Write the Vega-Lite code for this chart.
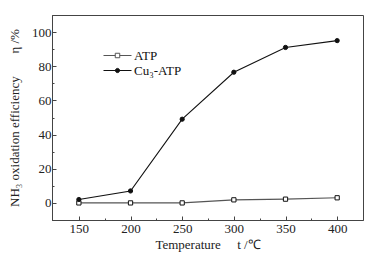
{
  "$schema": "https://vega.github.io/schema/vega-lite/v6.json",
  "width": 311,
  "height": 205,
  "autosize": {"type": "none"},
  "padding": {"left": 52, "top": 15, "right": 19, "bottom": 43},
  "background": "white",
  "config": {
    "font": "Liberation Serif",
    "view": {"stroke": "#444", "strokeWidth": 1},
    "axis": {"labelFont": "Liberation Serif", "titleFont": "Liberation Serif", "labelFontSize": 13, "titleFontSize": 13, "titleFontWeight": "normal", "labelColor": "#222", "titleColor": "#222", "domainColor": "#444", "tickColor": "#444", "grid": false}
  },
  "data": {
    "values": [
      {"t": 150, "eta": 0, "series": "ATP"},
      {"t": 200, "eta": 0, "series": "ATP"},
      {"t": 250, "eta": 0, "series": "ATP"},
      {"t": 300, "eta": 1.8, "series": "ATP"},
      {"t": 350, "eta": 2.2, "series": "ATP"},
      {"t": 400, "eta": 3, "series": "ATP"},
      {"t": 150, "eta": 2, "series": "Cu₃-ATP"},
      {"t": 200, "eta": 7, "series": "Cu₃-ATP"},
      {"t": 250, "eta": 49, "series": "Cu₃-ATP"},
      {"t": 300, "eta": 76.5, "series": "Cu₃-ATP"},
      {"t": 350, "eta": 91, "series": "Cu₃-ATP"},
      {"t": 400, "eta": 95, "series": "Cu₃-ATP"}
    ]
  },
  "layer": [
    {
      "mark": {"type": "line", "strokeWidth": 1.1},
      "encoding": {
        "x": {"field": "t", "type": "quantitative", "scale": {"domain": [124, 425], "nice": false, "zero": false},
          "axis": {"values": [150, 200, 250, 300, 350, 400], "tickSize": -4, "labelPadding": 6, "title": "Temperature\u00a0\u00a0\u00a0\u00a0\u00a0t /℃", "titlePadding": 3}},
        "y": {"field": "eta", "type": "quantitative", "scale": {"domain": [-10, 110], "nice": false, "zero": false},
          "axis": {"values": [0, 20, 40, 60, 80, 100], "tickSize": -4, "labelPadding": 5, "title": "NH₃ oxidation efficiency\u00a0\u00a0\u00a0\u00a0\u00a0\u00a0\u00a0η /%", "titlePadding": 10}},
        "stroke": {"field": "series", "type": "nominal", "scale": {"domain": ["ATP", "Cu₃-ATP"], "range": ["#555", "#111"]},
          "legend": {
            "orient": "none", "legendX": 58, "legendY": 33, "title": null,
            "symbolSize": 196, "labelFontSize": 13, "labelFont": "Liberation Serif", "labelColor": "#111", "rowPadding": 0, "labelOffset": 9,
            "encode": {"symbols": {"update": {
              "shape": {"signal": "datum.value == 'ATP' ? 'M-2,0H-0.32M0.32,0H2M-0.32,-0.32H0.32V0.32H-0.32Z' : 'M-2,0H2M0.3,0A0.3,0.3 0 1,1 -0.3,0A0.3,0.3 0 1,1 0.3,0Z'"},
              "fill": {"signal": "datum.value == 'ATP' ? 'white' : '#111'"},
              "fillOpacity": {"value": 1},
              "strokeWidth": {"value": 1},
              "size": {"value": 196}
            }}}
          }}
      }
    },
    {
      "mark": {"type": "point", "filled": false, "stroke": "#111", "strokeWidth": 1, "size": 18, "opacity": 1},
      "encoding": {
        "x": {"field": "t", "type": "quantitative", "axis": {"values": [175, 225, 275, 325, 375], "orient": "bottom", "labels": false, "domain": false, "tickSize": -2, "title": null}},
        "y": {"field": "eta", "type": "quantitative", "axis": {"values": [-10, 10, 30, 50, 70, 90, 110], "orient": "left", "labels": false, "domain": false, "tickSize": -2, "title": null}},
        "shape": {"condition": {"test": "datum.series == 'ATP'", "value": "square"}, "value": "circle"},
        "fill": {"condition": {"test": "datum.series == 'ATP'", "value": "white"}, "value": "#111"}
      }
    }
  ],
  "resolve": {"axis": {"x": "independent", "y": "independent"}}
}
